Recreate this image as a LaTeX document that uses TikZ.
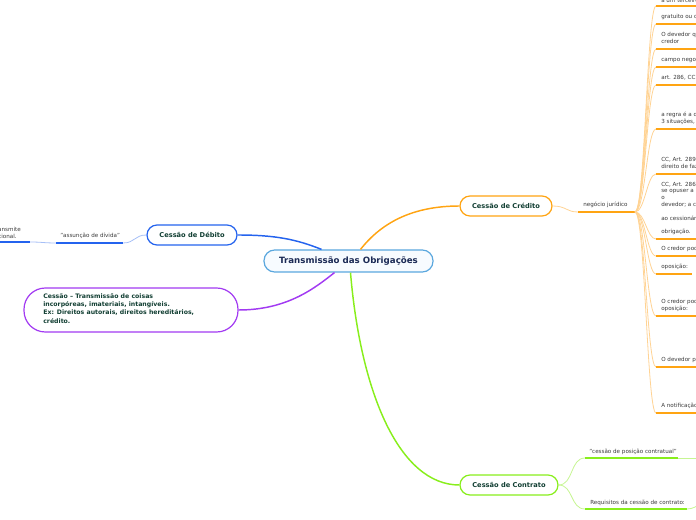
\documentclass[tikz,border=0pt]{standalone}
\usepackage{fontspec}
\setmainfont{DejaVu Sans}
\usetikzlibrary{calc}
\definecolor{corange}{HTML}{FFA412}
\definecolor{corlight}{HTML}{FFD394}
\definecolor{cblue}{HTML}{2463EE}
\definecolor{cbluel}{HTML}{A6BFF6}
\definecolor{ccentral}{HTML}{5AA7DE}
\definecolor{cfill}{HTML}{F7FBFF}
\definecolor{cpurple}{HTML}{A23AF2}
\definecolor{clime}{HTML}{88EE1C}
\definecolor{climel}{HTML}{C6F592}
\definecolor{cgreentext}{HTML}{123F33}
\definecolor{cnavy}{HTML}{1B2A55}
\definecolor{cleaf}{HTML}{3A3A3A}
\tikzset{
  mainnode/.style={draw=ccentral, line width=0.9pt, fill=cfill, rounded corners=8pt,
    minimum width=126.75pt, minimum height=16.5pt, inner sep=0pt, text=cnavy,
    font=\bfseries\fontsize{6.5}{8}\selectfont},
  topic/.style={draw=#1, line width=0.9pt, fill=white, rounded corners=7.5pt,
    minimum height=15pt, inner sep=0pt, text=cgreentext,
    font=\bfseries\fontsize{5}{6}\selectfont},
  leaf/.style={inner sep=0pt, text=cleaf, align=left, text depth=0pt, anchor=south west,
    font=\fontsize{4.2}{5.1}\selectfont},
  mainconn/.style={draw=#1, line width=1.1pt},
  thinconn/.style={draw=#1, line width=0.6pt},
  uline/.style={draw=#1, line width=1.5pt}
}
\begin{document}
\begin{tikzpicture}[x=0.75pt,y=-0.75pt]
\useasboundingbox (0,0) rectangle (696,520);
\clip (0,0) rectangle (696,520);

% main nodes
\node[mainnode] (central) at (348.5,261) {Transmissão das Obrigações};
\node[topic=corange, minimum width=69pt] (credito) at (506,206) {Cessão de Crédito};
\node[topic=cblue, minimum width=67.5pt] (debito) at (192,235) {Cessão de Débito};
\node[topic=clime, minimum width=73.5pt] (contrato) at (509,485) {Cessão de Contrato};
\node[draw=cpurple, line width=0.9pt, fill=white, rounded corners=16pt,
      minimum width=160.5pt, minimum height=33pt, inner sep=0pt] (purple) at (131,310) {};
\node[inner sep=0pt, anchor=north west, align=left, text=cgreentext,
      font=\bfseries\fontsize{4.65}{6.25}\selectfont] (ptext) at (43,293)
  {Cessão – Transmissão de coisas\\incorpóreas, imateriais, intangíveis.\\Ex: Direitos autorais, direitos hereditários,\\crédito.};

% main connectors
\draw[mainconn=corange] ($(central.north)+(12,0)$) .. controls +(22,-28) and +(-45,0) .. (credito.west);
\draw[mainconn=cblue] (debito.east) .. controls +(38,0) and +(-25,-10) .. ($(central.north)+(-27,0)$);
\draw[mainconn=cpurple] (purple.east) .. controls +(50,0) and +(-18,14) .. ($(central.south)+(-14,0)$);
\draw[mainconn=clime] ($(central.south)+(2,0)$) .. controls +(10,120) and +(-60,0) .. (contrato.west);

% Credito branch
\coordinate (ngA) at (578,212);
\coordinate (ngB) at (635,212);
\draw[thinconn=corlight] (credito.east) .. controls +(14,0) and +(-12,0) .. (ngA);
\draw[uline=corange] (ngA) -- (ngB);
\node[leaf] (ngT) at (583,207) {negócio jurídico};

\foreach \i/\uy/\ty/\len/\txt in {
  1/6/3/45/{a um terceiro},
  2/24/19/45/{gratuito ou o},
  3/49/44/45/{O devedor q\\credor},
  4/67/62/45/{campo negoc},
  5/85/80/45/{art. 286, CC},
  6/129/124/45/{a regra é a d\\3 situações, },
  7/174/169/45/{CC, Art. 289.\\direito de faz},
  8/239/234/45/{CC, Art. 286.\\se opuser a \\o\\devedor; a c\\~\\ao cessionári\\~\\obrigação.},
  9/256/251/45/{O credor pod},
  10/274/269/36/{oposição:},
  11/316/311/45/{O credor pod\\oposição:},
  12/367/362/45/{O devedor pr},
  13/413/408/45/{A notificação}} {
  \coordinate (L\i) at (656,\uy);
  \coordinate (R\i) at (656+\len,\uy);
  \draw[thinconn=corlight] (ngB) .. controls +(10,0) and +(-9,0) .. (L\i);
  \draw[uline=corange] (L\i) -- (R\i);
  \node[leaf] (T\i) at (661,\ty) {\txt};
}

% Debito branch
\coordinate (dA) at (123,243);
\coordinate (dB) at (56,243);
\coordinate (dC) at (30,242);
\coordinate (dD) at (-5,242);
\draw[thinconn=cbluel] (debito.west) .. controls +(-12,0) and +(12,0) .. (dA);
\draw[uline=cblue] (dB) -- (dA);
\node[leaf] (dT) at (60,238) {"assunção de dívida"};
\draw[thinconn=cbluel] (dB) .. controls +(-12,0) and +(12,0) .. (dC);
\draw[uline=cblue] (dD) -- (dC);
\node[inner sep=0pt, text=cleaf, anchor=base east, font=\fontsize{4.2}{5.1}\selectfont] (dT1) at (21,231.5) {ansmite};
\node[inner sep=0pt, text=cleaf, anchor=base east, font=\fontsize{4.2}{5.1}\selectfont] (dT2) at (17,238.5) {cional.};

% Contrato branch
\coordinate (cA1) at (585,458);
\coordinate (cB1) at (678,458);
\coordinate (cE1) at (700,458);
\coordinate (cA2) at (585,509);
\coordinate (cB2) at (687,509);
\coordinate (cE2) at (700,505);
\draw[thinconn=climel] (contrato.east) .. controls +(15,0) and +(-15,0) .. (cA1);
\draw[thinconn=climel] (contrato.east) .. controls +(15,0) and +(-15,0) .. (cA2);
\draw[uline=clime] (cA1) -- (cB1);
\draw[uline=clime] (cA2) -- (cB2);
\draw[thinconn=climel] (cB1) -- (cE1);
\draw[thinconn=climel] (cB2) .. controls +(6,0) and +(-4,1) .. (cE2);
\node[leaf] (cT1) at (589,453.5) {"cessão de posição contratual"};
\node[leaf] (cT2) at (590,504.5) {Requisitos da cessão de contrato:};
\end{tikzpicture}
\end{document}
